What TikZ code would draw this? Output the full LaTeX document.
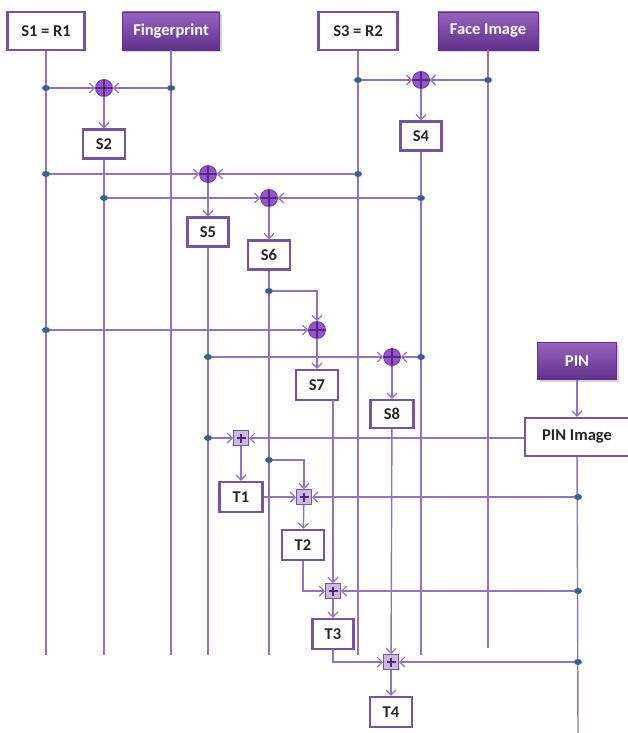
\documentclass[tikz,border=0pt]{standalone}
\usepackage{fontspec}
\setmainfont{Carlito}
\usetikzlibrary{arrows.meta,shapes.geometric,shadows}
\definecolor{linec}{RGB}{146,116,186}
\definecolor{boxc}{RGB}{118,84,164}
\definecolor{dotc}{RGB}{58,96,140}
\definecolor{xorc}{RGB}{150,84,206}
\definecolor{xorb}{RGB}{112,60,160}
\definecolor{plusc}{RGB}{84,40,124}
\definecolor{fillt}{RGB}{150,100,192}
\definecolor{fillb}{RGB}{96,48,138}
\definecolor{bpf}{RGB}{204,186,226}
\tikzset{
  conn/.style={draw=linec, line width=1.4pt},
  arr/.style={conn, -{Straight Barb[length=5pt,width=10pt,line width=1.2pt]}},
  lbox/.style={rectangle, draw=boxc, line width=2.4pt, fill=white, inner sep=0pt,
    font=\fontsize{16.5}{19}\selectfont\bfseries, text=black!85},
  fbox/.style={rectangle, draw=fillb, line width=0.8pt, top color=fillt, bottom color=fillb,
    inner sep=0pt, font=\fontsize{16.5}{19}\selectfont\bfseries, text=white,
    drop shadow={opacity=0.35, shadow xshift=2pt, shadow yshift=-2pt}},
  xor/.style={circle, minimum size=17pt, inner sep=0pt, fill=xorc, draw=xorb, line width=0.8pt,
    path picture={\draw[plusc, line width=1.1pt]
      ([yshift=8.5pt]path picture bounding box.center) -- ([yshift=-8.5pt]path picture bounding box.center)
      ([xshift=-8.5pt]path picture bounding box.center) -- ([xshift=8.5pt]path picture bounding box.center);}},
  bplus/.style={rectangle, minimum size=15pt, inner sep=0pt, fill=bpf, draw=boxc, line width=1pt,
    path picture={\draw[plusc, line width=2pt]
      ([yshift=4.5pt]path picture bounding box.center) -- ([yshift=-4.5pt]path picture bounding box.center)
      ([xshift=-4.5pt]path picture bounding box.center) -- ([xshift=4.5pt]path picture bounding box.center);}},
  dot/.style={ellipse, minimum width=8pt, minimum height=6pt, inner sep=0pt, fill=dotc}
}
\begin{document}
\begin{tikzpicture}[x=1pt,y=-1pt]
\useasboundingbox (0,0) rectangle (628,733);
% top boxes
\node[lbox, minimum width=77pt, minimum height=38pt] (s1) at (46,31) {S1 = R1};
\node[fbox, minimum width=97pt, minimum height=38pt] (fp) at (171,31) {Fingerprint};
\node[lbox, minimum width=79pt, minimum height=38pt] (s3) at (358,31) {S3 = R2};
\node[fbox, minimum width=100pt, minimum height=38pt] (face) at (488,31) {Face Image};
\node[fbox, minimum width=79pt, minimum height=37pt] (pin) at (577,361) {PIN};
% vertical line ends
\coordinate (e1) at (46,655);
\coordinate (e2) at (171,655);
\coordinate (e3) at (358,655);
\coordinate (e4) at (488,648);
\coordinate (e5) at (104,655);
\coordinate (e6) at (421,655);
\coordinate (e7) at (208,655);
\coordinate (e8) at (269,655);
\coordinate (e9) at (578,733);
% boxes
\node[lbox, minimum width=42pt, minimum height=29pt] (s2) at (104,144) {S2};
\node[lbox, minimum width=41pt, minimum height=29pt] (s4) at (421,136) {S4};
\node[lbox, minimum width=41pt, minimum height=29pt] (s5) at (208,232) {S5};
\node[lbox, minimum width=42pt, minimum height=29pt] (s6) at (269,255) {S6};
\node[lbox, minimum width=42pt, minimum height=30pt] (s7) at (317,385) {S7};
\node[lbox, minimum width=43pt, minimum height=28pt] (s8) at (392,414) {S8};
\node[lbox, minimum width=104pt, minimum height=38pt] (pinimg) at (577,437) {PIN Image};
\node[lbox, minimum width=43pt, minimum height=30pt] (t1) at (241,497) {T1};
\node[lbox, minimum width=42pt, minimum height=30pt] (t2) at (303,545) {T2};
\node[lbox, minimum width=41pt, minimum height=30pt] (t3) at (333,634) {T3};
\node[lbox, minimum width=42pt, minimum height=30pt] (t4) at (391,712) {T4};
\coordinate (s7o) at (333,400);
% vertical lines
\draw[conn] (s1) -- (e1);
\draw[conn] (fp) -- (e2);
\draw[conn] (s3) -- (e3);
\draw[conn] (face) -- (e4);
\draw[conn] (s2) -- (e5);
\draw[conn] (s4) -- (e6);
\draw[conn] (s5) -- (e7);
\draw[conn] (s6) -- (e8);
\draw[conn] (pinimg) -- (e9);
% combiners
\node[xor] (x1) at (104,88) {};
\node[xor] (x2) at (421,80) {};
\node[xor] (x3) at (208,174) {};
\node[xor] (x4) at (269,198) {};
\node[xor] (x5) at (317,330) {};
\node[xor] (x6) at (392,357) {};
\node[bplus] (b1) at (241,438) {};
\node[bplus] (b2) at (304,497) {};
\node[bplus] (b3) at (333,591) {};
\node[bplus] (b4) at (391,662) {};
% dots
\node[dot] (d1) at (46,88) {};
\node[dot] (d2) at (171,88) {};
\node[dot] (d3) at (358,80) {};
\node[dot] (d4) at (488,80) {};
\node[dot] (d5) at (46,174) {};
\node[dot] (d6) at (358,174) {};
\node[dot] (d7) at (104,198) {};
\node[dot] (d8) at (421,198) {};
\node[dot] (d9) at (269,291) {};
\node[dot] (d10) at (46,330) {};
\node[dot] (d11) at (208,357) {};
\node[dot] (d12) at (421,357) {};
\node[dot] (d13) at (208,438) {};
\node[dot] (d14) at (269,460) {};
\node[dot] (d15) at (578,497) {};
\node[dot] (d16) at (578,591) {};
\node[dot] (d17) at (578,662) {};
% arrows
\draw[arr] (d1) -- (x1);
\draw[arr] (d2) -- (x1);
\draw[arr] (x1) -- (s2);
\draw[arr] (d3) -- (x2);
\draw[arr] (d4) -- (x2);
\draw[arr] (x2) -- (s4);
\draw[arr] (d5) -- (x3);
\draw[arr] (d6) -- (x3);
\draw[arr] (x3) -- (s5);
\draw[arr] (d7) -- (x4);
\draw[arr] (d8) -- (x4);
\draw[arr] (x4) -- (s6);
\draw[arr] (d9) -| (x5);
\draw[arr] (d10) -- (x5);
\draw[arr] (x5) -- (s7);
\draw[arr] (d11) -- (x6);
\draw[arr] (d12) -- (x6);
\draw[arr] (x6) -- (s8);
\draw[arr] (pin) -- (pinimg);
\draw[arr] (d13) -- (b1);
\draw[arr] (pinimg.west |- b1) -- (b1);
\draw[arr] (b1) -- (t1);
\draw[arr] (d14) -| (b2);
\draw[arr] (t1) -- (b2);
\draw[arr] (d15) -- (b2);
\draw[arr] (b2) -- (t2);
\draw[arr] (t2) |- (b3);
\draw[arr] (s7o) -- (b3);
\draw[arr] (d16) -- (b3);
\draw[arr] (b3) -- (t3);
\draw[arr] (t3) |- (b4);
\draw[arr] (s8) -- (b4);
\draw[arr] (d17) -- (b4);
\draw[arr] (b4) -- (t4);
\end{tikzpicture}
\end{document}
